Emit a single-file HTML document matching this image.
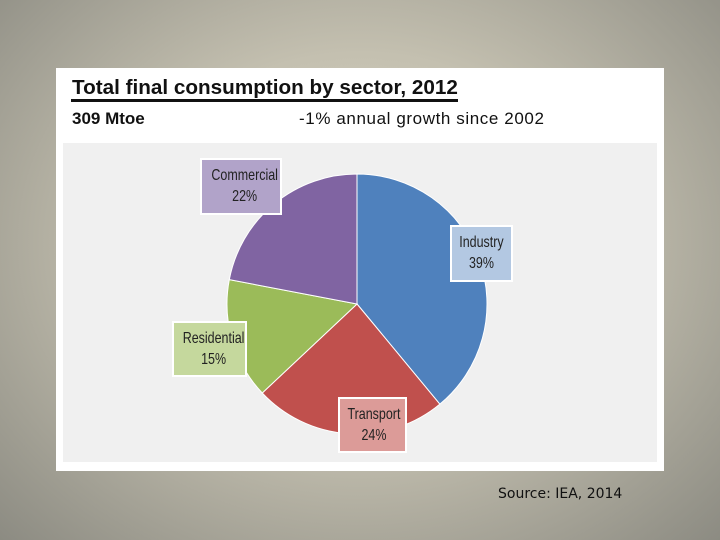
<!DOCTYPE html>
<html><head><meta charset="utf-8"><style>
body{margin:0;width:720px;height:540px;overflow:hidden;background:radial-gradient(ellipse at 50% 45%,#dcd8c8 0%,#c4c0b0 45%,#8c8b82 100%);font-family:"Liberation Sans",sans-serif;position:relative}
#panel{position:absolute;left:56px;top:68px;width:608px;height:403px;background:#fff}
.t{position:absolute;white-space:nowrap;color:#111}
.lbl{position:absolute;border:2px solid #fff;box-sizing:border-box;text-align:center;font-family:"Liberation Sans Narrow","Liberation Sans",sans-serif;font-size:16px;line-height:21px;color:#222;padding-top:5px;overflow:hidden}
.lbl span{display:inline-block;transform:scaleX(0.78);white-space:nowrap}
</style></head><body>
<div id="panel">
<div class="t" style="left:16px;top:8px;font-size:20.7px;font-weight:bold">Total final consumption by sector, 2012</div>
<div style="position:absolute;left:15px;top:31px;width:387px;height:3px;background:#111"></div>
<div class="t" style="left:16px;top:41px;font-size:17px;font-weight:bold">309 Mtoe</div>
<div class="t" style="left:243px;top:41px;font-size:17px;letter-spacing:0.6px">-1% annual growth since 2002</div>
<div style="position:absolute;left:7px;top:75px;width:594px;height:319px;background:#f0f0f0"></div>
</div>
<svg id="pie" width="720" height="540" style="position:absolute;left:0;top:0"></svg>
<div class="lbl" style="left:200px;top:158px;width:82px;height:57px;background:#b1a3c9"><span>Commercial<br>22%</span></div>
<div class="lbl" style="left:450px;top:225px;width:63px;height:57px;background:#b3c8e2"><span>Industry<br>39%</span></div>
<div class="lbl" style="left:172px;top:321px;width:75px;height:56px;background:#c5d89d"><span>Residential<br>15%</span></div>
<div class="lbl" style="left:338px;top:397px;width:69px;height:56px;background:#dc9b98"><span>Transport<br>24%</span></div>
<div class="t" style="left:498px;top:486px;font-size:14px;font-family:'DejaVu Sans',sans-serif;color:#111">Source: IEA, 2014</div>
<script>
const categories=["Industry","Transport","Residential","Commercial"];
const shares=[39,24,15,22];
const colors=["#4f81bd","#c0504d","#9bbb59","#8064a2"];
const svg=document.getElementById('pie');
const cx=357,cy=304,r=130;
const total=shares.reduce((a,b)=>a+b,0);
function pt(a){return [cx+r*Math.sin(a),cy-r*Math.cos(a)];}
let a0=0;
shares.forEach((v,i)=>{
  const a1=a0+v/total*2*Math.PI;
  const p0=pt(a0),p1=pt(a1);
  const large=(a1-a0)>Math.PI?1:0;
  const path=document.createElementNS('http://www.w3.org/2000/svg','path');
  path.setAttribute('d',`M${cx},${cy}L${p0[0]},${p0[1]}A${r},${r} 0 ${large} 1 ${p1[0]},${p1[1]}Z`);
  path.setAttribute('fill',colors[i]);
  path.setAttribute('stroke','#fff');
  path.setAttribute('stroke-width','1');
  
  
  svg.appendChild(path);
  a0=a1;
});
</script>
</body></html>
